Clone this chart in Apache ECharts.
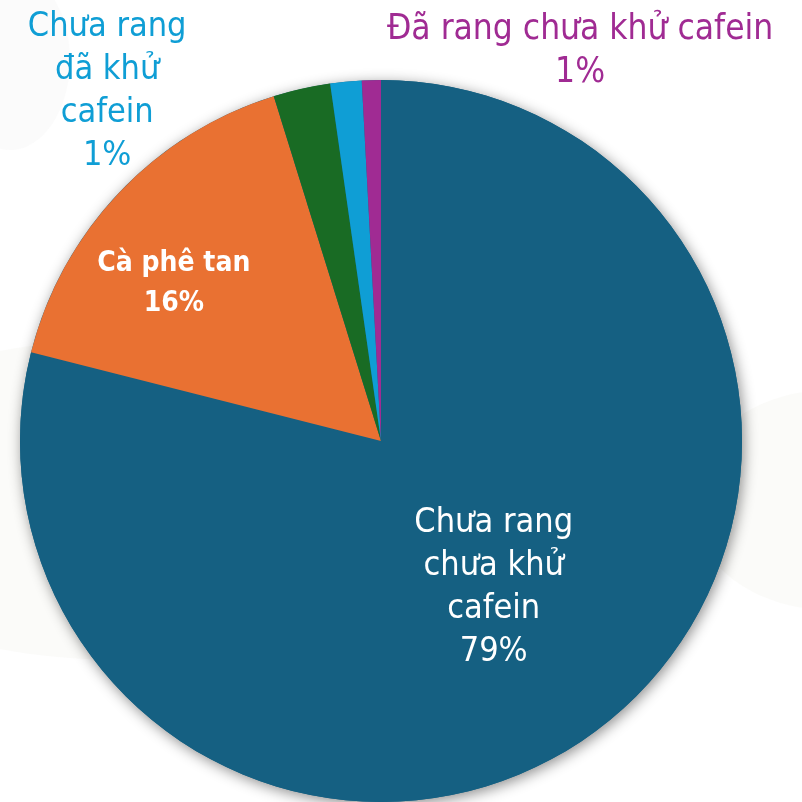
<!DOCTYPE html>
<html>
<head>
<meta charset="utf-8">
<script src="https://cdn.jsdelivr.net/npm/echarts@6/dist/echarts.min.js"></script>
<style>
  html, body { margin: 0; padding: 0; background: #ffffff; }
  #chart { width: 802px; height: 802px; }
</style>
</head>
<body>
<div id="chart"></div>
<script>
// Coffee product share (%), slices drawn clockwise from 12 o'clock
const categories = [
  'Chưa rang chưa khử cafein',
  'Cà phê tan',
  'Khác',
  'Chưa rang đã khử cafein',
  'Đã rang chưa khử cafein'
];
const shares = [78.95, 16.25, 2.55, 1.4, 0.85];
const sliceColors = ['#156082', '#E97132', '#196B24', '#0F9ED5', '#A02B93'];

const FONT = '"DejaVu Sans Condensed", "DejaVu Sans", sans-serif';
const CENTER = [381, 441];
const RADIUS = 361;

// Per-slice label styling
const labelStyles = [
  { show: true, color: '#ffffff', fontSize: 34, lineHeight: 43, offset: [0, 2] },
  { show: true, color: '#ffffff', fontSize: 28, fontWeight: 'bold', lineHeight: 40, offset: [-74, -31] },
  { show: false },
  { show: true, color: '#0F9ED5', fontSize: 34, lineHeight: 43, offset: [-256, -167] },
  { show: true, color: '#A02B93', fontSize: 35, lineHeight: 43, offset: [204, -206] }
];

// Label text: wrapped name plus rounded percentage
const labelTexts = [
  'Chưa rang\nchưa khử\ncafein',
  'Cà phê tan',
  'Khác',
  'Chưa rang\nđã khử\ncafein',
  'Đã rang chưa khử cafein'
];

const pieData = categories.map((name, i) => ({
  name: name,
  value: shares[i],
  itemStyle: { color: sliceColors[i] },
  label: Object.assign({
    position: 'inside',
    fontFamily: FONT,
    formatter: labelTexts[i] + '\n' + Math.round(shares[i]) + '%'
  }, labelStyles[i])
}));

const chart = echarts.init(document.getElementById('chart'), null, { renderer: 'canvas' });
chart.setOption({
  backgroundColor: '#ffffff',
  animation: false,
  graphic: [
    // faint decorative shapes in the background
    { type: 'ellipse', z: -10, silent: true,
      shape: { cx: 10, cy: 60, rx: 60, ry: 90 },
      style: { fill: 'rgba(235,235,232,0.18)' } },
    { type: 'ellipse', z: -10, silent: true,
      shape: { cx: 120, cy: 500, rx: 330, ry: 160 },
      style: { fill: 'rgba(240,238,230,0.25)' } },
    { type: 'ellipse', z: -10, silent: true,
      shape: { cx: 830, cy: 500, rx: 140, ry: 110 },
      style: { fill: 'rgba(240,238,230,0.25)' } }
  ],
  series: [
    {
      // soft drop shadow under the whole pie
      type: 'pie',
      silent: true,
      center: CENTER,
      radius: RADIUS,
      z: 1,
      label: { show: false },
      labelLine: { show: false },
      itemStyle: {
        color: '#156082',
        shadowBlur: 14,
        shadowColor: 'rgba(0,0,0,0.45)',
        shadowOffsetX: 2,
        shadowOffsetY: 3
      },
      data: [{ value: 1 }]
    },
    {
      type: 'pie',
      center: CENTER,
      radius: RADIUS,
      startAngle: 90,
      clockwise: true,
      z: 2,
      labelLine: { show: false },
      itemStyle: { borderWidth: 0 },
      emphasis: { disabled: true },
      data: pieData
    }
  ]
});
</script>
</body>
</html>
